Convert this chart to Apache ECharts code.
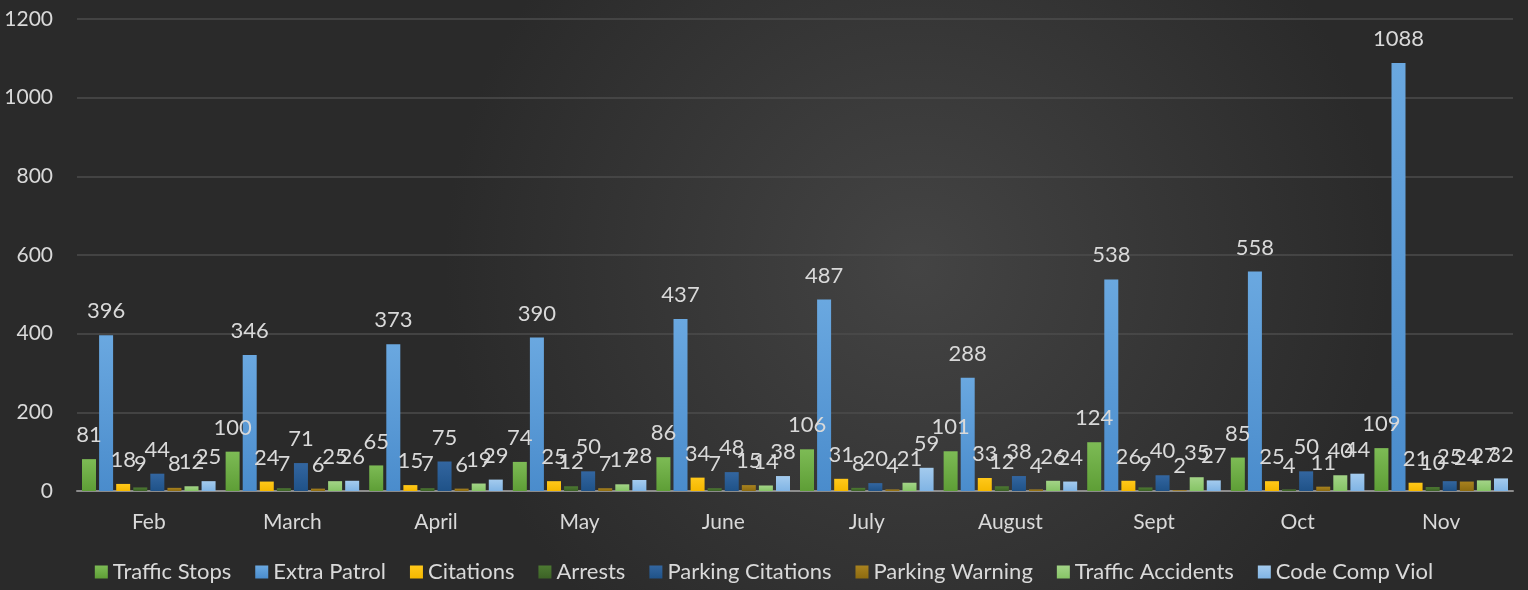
<!DOCTYPE html>
<html><head><meta charset="utf-8">
<script src="https://cdn.jsdelivr.net/npm/echarts@6/dist/echarts.min.js"></script>
<style>html,body{margin:0;padding:0;background:#2e2e2e;}#c{width:1528px;height:590px;}</style>
</head><body><div id="c"></div>
<script>
const categories = ['Feb','March','April','May','June','July','August','Sept','Oct','Nov'];
const yTicks = [0,200,400,600,800,1000,1200];
const trafficStops = [81,100,65,74,86,106,101,124,85,109];
const extraPatrol = [396,346,373,390,437,487,288,538,558,1088];
const citations = [18,24,15,25,34,31,33,26,25,21];
const arrests = [9,7,7,12,7,8,12,9,4,10];
const parkingCitations = [44,71,75,50,48,20,38,40,50,25];
const parkingWarning = [8,6,6,7,15,4,4,2,11,24];
const trafficAccidents = [12,25,19,17,14,21,26,35,40,27];
const codeCompViol = [25,26,29,28,38,59,24,27,44,32];

const seriesDefs = [
  ['Traffic Stops', trafficStops, '#7dbb55', '#5e9e36'],
  ['Extra Patrol', extraPatrol, '#6aa8e0', '#4a8ccc'],
  ['Citations', citations, '#ffc81a', '#f5b800'],
  ['Arrests', arrests, '#4d7a32', '#3c6226'],
  ['Parking Citations', parkingCitations, '#3366a0', '#1f5288'],
  ['Parking Warning', parkingWarning, '#a8821f', '#8d6b10'],
  ['Traffic Accidents', trafficAccidents, '#a3d487', '#86c466'],
  ['Code Comp Viol', codeCompViol, '#a4cbee', '#80b4e4']
];
const FONT = 'Lato';
const chart = echarts.init(document.getElementById('c'), null, {renderer:'canvas'});
chart.setOption({
  animation:false,
  backgroundColor:{type:'radial',x:0.6,y:0.45,r:0.8,colorStops:[{offset:0,color:'#444444'},{offset:1,color:'#2a2a2a'}]},
  legend:{
    bottom:2, left:'center', itemWidth:13, itemHeight:13, itemGap:24,
    icon:'rect',
    textStyle:{color:'#d9d9d9', fontSize:22, fontFamily:FONT, padding:[0,0,0,0]},
    data: seriesDefs.map(s=>s[0])
  },
  grid:{left:77, right:15, top:19, bottom:99, containLabel:false},
  xAxis:{
    type:'category', data:categories,
    axisLine:{lineStyle:{color:'#8c8c8c', width:2}},
    axisTick:{show:false},
    axisLabel:{color:'#d9d9d9', fontSize:21, fontFamily:FONT, margin:21}
  },
  yAxis:{
    type:'value', min:yTicks[0], max:yTicks[yTicks.length-1], interval:200,
    axisLine:{show:false}, axisTick:{show:false},
    splitLine:{lineStyle:{color:'#4c4c4c', width:1.5}},
    axisLabel:{color:'#d9d9d9', fontSize:21, fontFamily:FONT, margin:24, formatter: v => String(v)}
  },
  series: seriesDefs.map(([name,data,c1,c2])=>({
    name, type:'bar', data,
    barWidth:14, barGap:'22%', barCategoryGap:'4%',
    itemStyle:{color:{type:'linear',x:0,y:0,x2:0,y2:1,colorStops:[{offset:0,color:c1},{offset:1,color:c2}]}},
    label:{show:true, position:'top', distance:13, color:'#d9d9d9', fontSize:22, fontFamily:FONT}
  }))
});
</script></body></html>
